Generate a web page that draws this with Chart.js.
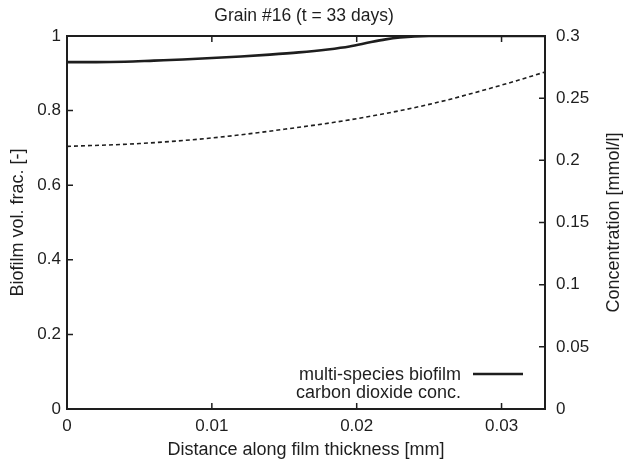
<!DOCTYPE html>
<html>
<head>
<meta charset="utf-8">
<script src="https://cdn.jsdelivr.net/npm/chart.js@4"></script>
<style>
html,body{margin:0;padding:0;background:#fff;}
#wrap{width:624px;height:464px;}
</style>
</head>
<body>
<div id="wrap"><canvas id="c" width="624" height="464"></canvas></div>
<script>
const chartTitle = 'Grain #16 (t = 33 days)';
const xTitle = 'Distance along film thickness [mm]';
const yLeftTitle = 'Biofilm vol. frac. [-]';
const yRightTitle = 'Concentration [mmol/l]';
const seriesNames = ['multi-species biofilm', 'carbon dioxide conc.'];

const bioX = [0, 0.002, 0.004, 0.006, 0.008, 0.010, 0.012, 0.014, 0.016, 0.018, 0.0195, 0.021, 0.022, 0.023, 0.024, 0.025, 0.027, 0.030, 0.033];
const bioY = [0.930, 0.930, 0.931, 0.934, 0.937, 0.941, 0.945, 0.950, 0.956, 0.964, 0.972, 0.984, 0.991, 0.996, 0.999, 1.000, 1.000, 1.000, 1.000];

const co2X = [0, 0.005, 0.010, 0.015, 0.020, 0.025, 0.030, 0.033];
const co2Y = [0.2112, 0.2135, 0.2180, 0.2250, 0.2335, 0.2450, 0.2605, 0.2710];

const xTicks = [0, 0.01, 0.02, 0.03];
const yLeftTicks = [0, 0.2, 0.4, 0.6, 0.8, 1];
const yRightTicks = [0, 0.05, 0.1, 0.15, 0.2, 0.25, 0.3];

const FONT = "'Liberation Sans', Arial, Helvetica, sans-serif";
const INK = '#1e1e1e';
const TICK_SIZE = 17;
const LABEL_SIZE = 18;

const framePlugin = {
  id: 'frame',
  afterDatasetsDraw(chart) {
    const {ctx, chartArea: a, scales} = chart;
    ctx.save();
    ctx.strokeStyle = INK;
    ctx.lineWidth = 1.5;
    const tl = 6;
    ctx.beginPath();
    xTicks.forEach(v => {
      const p = scales.x.getPixelForValue(v);
      ctx.moveTo(p, a.bottom); ctx.lineTo(p, a.bottom - tl);
      ctx.moveTo(p, a.top); ctx.lineTo(p, a.top + tl);
    });
    yLeftTicks.forEach(v => {
      const p = scales.y.getPixelForValue(v);
      ctx.moveTo(a.left, p); ctx.lineTo(a.left + tl, p);
    });
    yRightTicks.forEach(v => {
      const p = scales.y2.getPixelForValue(v);
      ctx.moveTo(a.right, p); ctx.lineTo(a.right - tl, p);
    });
    ctx.stroke();
    ctx.lineWidth = 2;
    ctx.strokeRect(a.left, a.top, a.right - a.left, a.bottom - a.top);

    // chart title
    ctx.fillStyle = INK;
    ctx.font = '17.5px ' + FONT;
    ctx.textAlign = 'center';
    ctx.textBaseline = 'middle';
    ctx.fillText(chartTitle, 304, 16);

    // right axis title, reading bottom to top
    ctx.font = LABEL_SIZE + 'px ' + FONT;
    ctx.translate(614, (a.top + a.bottom) / 2);
    ctx.rotate(-Math.PI / 2);
    ctx.fillText(yRightTitle, 0, 0);
    ctx.restore();

    // legend
    ctx.save();
    ctx.fillStyle = INK;
    ctx.font = LABEL_SIZE + 'px ' + FONT;
    ctx.textAlign = 'right';
    ctx.textBaseline = 'middle';
    const lx = 461, ly1 = 375, ly2 = 393;
    ctx.fillText(seriesNames[0], lx, ly1);
    ctx.fillText(seriesNames[1], lx, ly2);
    ctx.strokeStyle = INK;
    ctx.lineWidth = 2.5;
    ctx.beginPath();
    ctx.moveTo(473, 374); ctx.lineTo(523, 374);
    ctx.stroke();
    ctx.restore();
  }
};

new Chart(document.getElementById('c'), {
  type: 'scatter',
  data: {
    datasets: [
      {
        label: seriesNames[0],
        data: bioX.map((x, i) => ({x, y: bioY[i]})),
        yAxisID: 'y',
        showLine: true,
        borderColor: INK,
        borderWidth: 2.6,
        pointRadius: 0,
        cubicInterpolationMode: 'monotone'
      },
      {
        label: seriesNames[1],
        data: co2X.map((x, i) => ({x, y: co2Y[i]})),
        yAxisID: 'y2',
        showLine: true,
        borderColor: INK,
        borderWidth: 1.6,
        borderDash: [4, 3],
        pointRadius: 0,
        cubicInterpolationMode: 'monotone'
      }
    ]
  },
  options: {
    responsive: false,
    animation: false,
    devicePixelRatio: 1,
    layout: {padding: {top: 36, left: 0, right: 0, bottom: 0}},
    plugins: {
      legend: {display: false},
      tooltip: {enabled: false},
      title: {display: false}
    },
    scales: {
      x: {
        type: 'linear',
        min: 0, max: 0.033,
        afterFit(s) { s.height = 55; },
        afterBuildTicks(s) { s.ticks = xTicks.map(v => ({value: v})); },
        grid: {display: false, drawTicks: false},
        border: {display: false},
        ticks: {
          color: INK, padding: 7,
          font: {family: FONT, size: TICK_SIZE},
          callback: v => String(v)
        },
        title: {
          display: true, text: xTitle, color: INK,
          font: {family: FONT, size: LABEL_SIZE, lineHeight: 1.2},
          padding: {top: 0, bottom: 3}
        }
      },
      y: {
        type: 'linear', position: 'left',
        min: 0, max: 1,
        afterFit(s) { s.width = 67; },
        afterBuildTicks(s) { s.ticks = yLeftTicks.map(v => ({value: v})); },
        grid: {display: false, drawTicks: false},
        border: {display: false},
        ticks: {
          color: INK, padding: 6,
          font: {family: FONT, size: TICK_SIZE},
          callback: v => String(v)
        },
        title: {
          display: true, text: yLeftTitle, color: INK,
          font: {family: FONT, size: LABEL_SIZE, lineHeight: 1.2},
          padding: {top: 7, bottom: 0}
        }
      },
      y2: {
        type: 'linear', position: 'right',
        min: 0, max: 0.3,
        afterFit(s) { s.width = 79; },
        afterBuildTicks(s) { s.ticks = yRightTicks.map(v => ({value: v})); },
        grid: {display: false, drawTicks: false},
        border: {display: false},
        ticks: {
          color: INK, padding: 11,
          font: {family: FONT, size: TICK_SIZE},
          callback: v => String(v)
        }
      }
    }
  },
  plugins: [framePlugin]
});
</script>
</body>
</html>
